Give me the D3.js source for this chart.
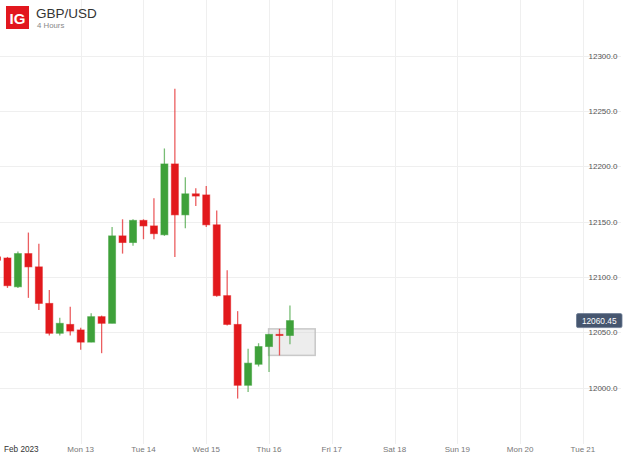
<!DOCTYPE html>
<html>
<head>
<meta charset="utf-8">
<script src="https://cdn.jsdelivr.net/npm/d3@7"></script>
<style>
  html, body { margin: 0; padding: 0; background: #fff; }
  svg { display: block; font-family: "Liberation Sans", Arial, sans-serif; }
</style>
</head>
<body>
<svg id="chart" width="625" height="456"></svg>
<script>
// ---- data ----
const times = [
  "2023-02-11T16:00", "2023-02-11T20:00",
  "2023-02-12T00:00", "2023-02-12T04:00", "2023-02-12T08:00", "2023-02-12T12:00", "2023-02-12T16:00", "2023-02-12T20:00",
  "2023-02-13T00:00", "2023-02-13T04:00", "2023-02-13T08:00", "2023-02-13T12:00", "2023-02-13T16:00", "2023-02-13T20:00",
  "2023-02-14T00:00", "2023-02-14T04:00", "2023-02-14T08:00", "2023-02-14T12:00", "2023-02-14T16:00", "2023-02-14T20:00",
  "2023-02-15T00:00", "2023-02-15T04:00", "2023-02-15T08:00", "2023-02-15T12:00", "2023-02-15T16:00", "2023-02-15T20:00",
  "2023-02-16T00:00", "2023-02-16T04:00", "2023-02-16T08:00"
];
const open  = [12118, 12117, 12091, 12121, 12109, 12076, 12049, 12057, 12052, 12041, 12064, 12058, 12137, 12131, 12151, 12146, 12138, 12202, 12156, 12175, 12174, 12147, 12083, 12057, 12002, 12021, 12037, 12048, 12047];
const close = [12115, 12092, 12121, 12109, 12076, 12049, 12058, 12051, 12041, 12064, 12058, 12137, 12131, 12151, 12146, 12139, 12202, 12156, 12175, 12173, 12147, 12083, 12057, 12002, 12022, 12037, 12048, 12047, 12060.45];
const high  = [12120, 12118, 12123, 12140, 12130, 12088, 12063, 12073, 12054, 12067, 12065, 12145, 12152, 12152, 12152, 12171, 12216, 12270, 12190, 12180, 12182, 12160, 12106, 12069, 12035, 12040, 12048, 12053, 12074];
const low   = [12112, 12090, 12090, 12081, 12070, 12047, 12047, 12047, 12034, 12041, 12031, 12058, 12121, 12128, 12134, 12134, 12137, 12118, 12144, 12164, 12145, 12082, 12056, 11990, 11996, 12019, 12014, 12029, 12039];
const yTicks = [12000, 12050, 12100, 12150, 12200, 12250, 12300];
const dayTicks = ["2023-02-13", "2023-02-14", "2023-02-15", "2023-02-16", "2023-02-17", "2023-02-18", "2023-02-19", "2023-02-20", "2023-02-21"];
const monthLabel = "Feb 2023";
const lastPrice = 12060.45;
const boxTimes = ["2023-02-15T23:50", "2023-02-16T17:40"];
const boxPrices = [12029, 12053];
const title = "GBP/USD";
const subtitle = "4 Hours";

// ---- setup ----
const parse = s => new Date(s + (s.length === 10 ? "T00:00Z" : "Z"));
const svg = d3.select("#chart");
const x = d3.scaleUtc()
  .domain([parse("2023-02-13"), parse("2023-02-21")])
  .range([80.7, 582.9]);
const y = d3.scaleLinear().domain([12000, 12300]).range([387.5, 55.5]);

const RED = "#e2191c", GREEN = "#3ea13a";
const candles = times.map((t, i) => ({ t: parse(t), o: open[i], c: close[i], h: high[i], l: low[i] }));

// gridlines
const grid = svg.append("g");
grid.selectAll("line.v").data(dayTicks.map(parse)).join("line")
  .attr("x1", d => Math.round(x(d)) + 0.5).attr("x2", d => Math.round(x(d)) + 0.5)
  .attr("y1", 0).attr("y2", 444)
  .attr("stroke", "#efefef").attr("stroke-width", 1);
grid.selectAll("line.h").data(yTicks).join("line")
  .attr("x1", 0).attr("x2", 621)
  .attr("y1", d => Math.round(y(d)) + 0.5).attr("y2", d => Math.round(y(d)) + 0.5)
  .attr("stroke", "#efefef").attr("stroke-width", 1);

// y labels
svg.append("g").selectAll("text").data(yTicks).join("text")
  .attr("x", 588.5).attr("y", d => y(d) + 3)
  .attr("font-size", 8).attr("fill", "#555")
  .text(d => d3.format(".1f")(d));

// x labels
const fmtDay = d3.utcFormat("%a %-d");
svg.append("g").selectAll("text").data(dayTicks.map(parse)).join("text")
  .attr("x", d => x(d)).attr("y", 452)
  .attr("text-anchor", "middle")
  .attr("font-size", 8).attr("fill", "#777")
  .text(d => fmtDay(d));
svg.append("text").attr("x", 4).attr("y", 452)
  .attr("font-size", 8.2).attr("fill", "#333").text(monthLabel);

// range box (behind candles)
svg.append("rect")
  .attr("x", x(parse(boxTimes[0])))
  .attr("width", x(parse(boxTimes[1])) - x(parse(boxTimes[0])))
  .attr("y", y(boxPrices[1]))
  .attr("height", y(boxPrices[0]) - y(boxPrices[1]))
  .attr("fill", "#d8d8d8").attr("fill-opacity", 0.45)
  .attr("stroke", "#bdbdbd").attr("stroke-opacity", 0.8).attr("stroke-width", 1.5);

// candles
const bw = 7;
const cg = svg.append("g");
cg.selectAll("line.wick").data(candles).join("line")
  .attr("x1", d => x(d.t)).attr("x2", d => x(d.t))
  .attr("y1", d => y(d.h)).attr("y2", d => y(d.l))
  .attr("stroke", d => d.c >= d.o ? GREEN : RED)
  .attr("stroke-opacity", 0.7)
  .attr("stroke-width", 1.3);
cg.selectAll("rect.body").data(candles).join("rect")
  .attr("x", d => x(d.t) - bw / 2)
  .attr("width", bw)
  .attr("y", d => y(Math.max(d.o, d.c)))
  .attr("height", d => Math.max(1, Math.abs(y(d.o) - y(d.c))))
  .attr("fill", d => d.c >= d.o ? GREEN : RED)
  .attr("stroke", d => d.c >= d.o ? GREEN : RED)
  .attr("stroke-opacity", 0.55)
  .attr("stroke-width", 1);

// last price label
const py = y(lastPrice);
svg.append("rect")
  .attr("x", 576.5).attr("y", py - 7).attr("width", 45.5).attr("height", 14)
  .attr("rx", 1.5).attr("fill", "#46566f").attr("stroke", "#6a7a92").attr("stroke-width", 0.8);
svg.append("text").attr("x", 599.2).attr("y", py + 3)
  .attr("text-anchor", "middle").attr("font-size", 8.3).attr("fill", "#fff")
  .text(d3.format(".2f")(lastPrice));

// header
svg.append("rect").attr("x", 6).attr("y", 6).attr("width", 23).attr("height", 23).attr("fill", "#e2171e");
svg.append("text").attr("x", 17.5).attr("y", 23.5).attr("text-anchor", "middle")
  .attr("font-size", 15).attr("font-weight", "bold").attr("fill", "#fff").text("IG");
svg.append("text").attr("x", 36).attr("y", 17.5)
  .attr("font-size", 13.5).attr("fill", "#333").text(title);
svg.append("text").attr("x", 37).attr("y", 27.5)
  .attr("font-size", 7.8).attr("fill", "#888").text(subtitle);
</script>
</body>
</html>
